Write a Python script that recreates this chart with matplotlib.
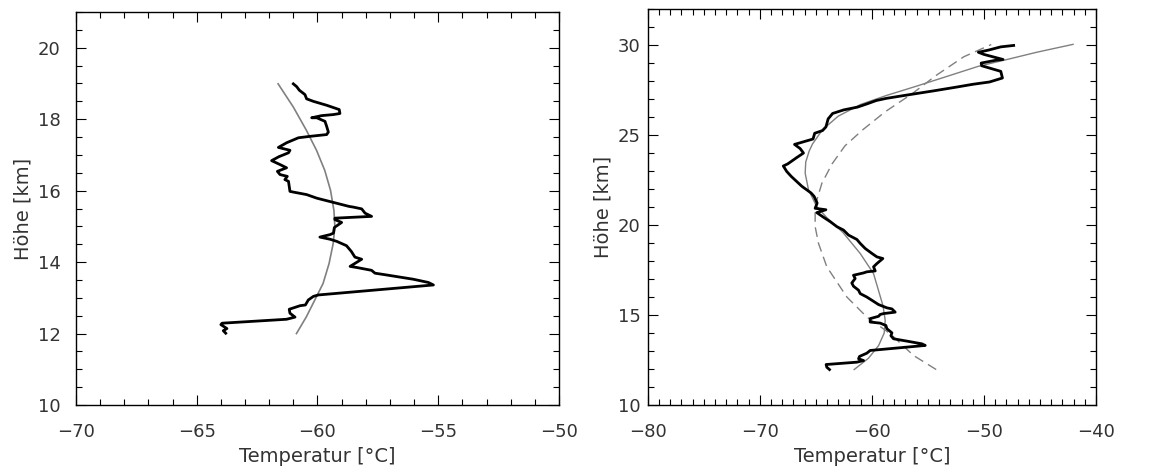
import matplotlib
matplotlib.use("Agg")
import matplotlib.pyplot as plt
from matplotlib.ticker import MultipleLocator

# left panel: measured profile and fitted curve
left_obs_T = [-63.8, -63.9, -63.75, -64.0, -63.95, -61.28, -60.93, -61.14, -61.17, -60.72,
              -60.5, -60.38, -60.17, -59.97, -55.2, -55.41, -56.03, -57.14, -57.62, -57.76,
              -58.38, -58.65, -58.17, -58.45, -58.6, -58.8, -59.2, -59.48, -59.9, -59.48,
              -59.34, -59.3, -59.0, -59.28, -59.28, -57.76, -58.03, -58.17, -58.52, -58.7,
              -60.03, -60.45, -61.0, -61.14, -61.17, -61.2, -61.35, -61.25, -61.55, -61.66,
              -61.28, -61.55, -61.9, -61.6, -61.2, -61.14, -61.62, -61.28, -60.79, -60.31,
              -59.62, -59.55, -59.62, -59.69, -60.03, -60.24, -59.83, -59.34, -59.07, -59.1,
              -59.62, -60.17, -60.45, -60.52, -60.75, -60.86, -61.0]
left_obs_h = [12.01, 12.08, 12.14, 12.25, 12.29, 12.4, 12.46, 12.57, 12.68, 12.78,
              12.8, 12.94, 13.04, 13.08, 13.36, 13.43, 13.52, 13.64, 13.69, 13.77,
              13.85, 13.88, 14.08, 14.14, 14.3, 14.46, 14.58, 14.64, 14.7, 14.77,
              14.81, 14.97, 15.11, 15.19, 15.23, 15.28, 15.37, 15.49, 15.54, 15.56,
              15.79, 15.89, 15.96, 15.98, 16.12, 16.26, 16.31, 16.4, 16.45, 16.54,
              16.64, 16.73, 16.84, 16.95, 17.06, 17.13, 17.21, 17.34, 17.48, 17.52,
              17.57, 17.64, 17.8, 17.94, 18.04, 18.04, 18.1, 18.13, 18.16, 18.27,
              18.39, 18.5, 18.57, 18.69, 18.81, 18.91, 18.99]

left_fit_T = [-60.87, -60.46, -60.11, -59.77, -59.52, -59.35, -59.28, -59.32, -59.46,
              -59.7, -60.04, -60.46, -61.0, -61.63]
left_fit_h = [12.0, 12.47, 12.94, 13.4, 13.96, 14.52, 14.99, 15.45, 16.01,
              16.57, 17.13, 17.69, 18.34, 18.99]

# right panel: measured profile, solid fit and dashed fit
right_obs_T = [-63.78, -64.02, -64.08, -61.34, -60.74, -61.19, -61.1, -60.45, -60.15, -55.24,
               -55.54, -56.88, -58.07, -58.3, -58.21, -58.66, -58.75, -59.26, -60.15, -60.15,
               -59.4, -59.26, -58.96, -57.92, -58.21, -58.66, -59.4, -60.45, -61.04, -61.19,
               -61.64, -61.79, -61.49, -61.64, -60.74, -60.45, -59.7, -59.85, -59.55, -59.02,
               -59.55, -59.99, -60.6, -61.04, -61.34, -62.08, -62.53, -63.12, -63.72, -64.38,
               -64.91, -64.1, -65.06, -64.88, -65.15, -65.42, -66.24, -67.19, -67.6, -67.9,
               -67.5, -66.7, -66.1, -66.4, -66.9, -65.8, -65.25, -65.1, -64.4, -64.1,
               -63.9, -63.5, -62.5, -61.3, -60.4, -59.6, -58.7, -56.6, -54.45, -52.5,
               -51.0, -49.5, -48.35, -48.5, -50.2, -50.25, -49.0, -48.3, -50.0, -50.5,
               -49.6, -48.5, -47.35]
right_obs_h = [11.97, 12.1, 12.25, 12.38, 12.47, 12.57, 12.7, 12.88, 13.03, 13.31,
               13.4, 13.55, 13.68, 13.85, 14.01, 14.24, 14.42, 14.55, 14.61, 14.8,
               14.93, 15.03, 15.08, 15.16, 15.34, 15.4, 15.58, 16.0, 16.19, 16.38,
               16.6, 16.78, 17.03, 17.21, 17.34, 17.4, 17.45, 17.68, 17.86, 18.14,
               18.23, 18.42, 18.7, 18.98, 19.2, 19.44, 19.72, 19.91, 20.19, 20.46,
               20.69, 20.85, 20.93, 21.22, 21.59, 21.78, 22.15, 22.7, 22.98, 23.28,
               23.4, 23.75, 24.0, 24.25, 24.48, 24.68, 24.78, 25.1, 25.25, 25.45,
               25.9, 26.2, 26.4, 26.55, 26.74, 26.92, 27.04, 27.25, 27.46, 27.66,
               27.82, 27.95, 28.17, 28.54, 28.85, 29.0, 29.15, 29.2, 29.48, 29.6,
               29.72, 29.9, 29.98]

right_fit_T = [-61.58, -60.3, -59.4, -58.9, -58.81, -59.0, -59.85, -61.04, -62.6, -64.0,
               -64.91, -65.65, -65.95, -65.9, -65.6, -65.3, -64.4, -63.0, -61.0, -58.7,
               -56.0, -53.1, -50.5, -47.8, -45.3, -42.05]
right_fit_h = [11.97, 12.6, 13.3, 14.0, 14.7, 15.5, 17.3, 18.42, 19.6, 20.4,
               21.02, 21.95, 22.88, 23.5, 24.1, 24.5, 25.3, 26.05, 26.7, 27.2,
               27.72, 28.3, 28.82, 29.22, 29.6, 30.04]

right_dash_T = [-54.26, -56.28, -58.36, -60.45, -62.23, -64.02, -64.76, -65.06, -65.06, -64.91,
                -64.46, -63.55, -62.4, -60.8, -58.8, -56.4, -54.3, -51.8, -49.35]
right_dash_h = [11.97, 12.75, 13.96, 14.89, 16.0, 17.68, 18.98, 19.91, 20.65, 21.39,
                22.32, 23.4, 24.4, 25.3, 26.3, 27.3, 28.3, 29.35, 30.03]

plt.rcParams["font.family"] = ["DejaVu Sans"]
plt.rcParams["font.size"] = 13

fig = plt.figure(figsize=(11.67, 4.68), dpi=100)
ax1 = fig.add_axes([0.0651, 0.1346, 0.4139, 0.8397])
ax2 = fig.add_axes([0.555, 0.1346, 0.3842, 0.846])

gray = "#808080"
txt = "#333333"

ax1.plot(left_fit_T, left_fit_h, color=gray, lw=1.2)
ax1.plot(left_obs_T, left_obs_h, color="black", lw=2.0)
ax1.set_xlim(-70, -50)
ax1.set_ylim(10, 21)
ax1.xaxis.set_major_locator(MultipleLocator(5))
ax1.xaxis.set_minor_locator(MultipleLocator(1))
ax1.yaxis.set_major_locator(MultipleLocator(2))
ax1.yaxis.set_minor_locator(MultipleLocator(0.5))

ax2.plot(right_dash_T, right_dash_h, color=gray, lw=1.0, dashes=(7, 4))
ax2.plot(right_fit_T, right_fit_h, color=gray, lw=1.0)
ax2.plot(right_obs_T, right_obs_h, color="black", lw=2.0)
ax2.set_xlim(-80, -40)
ax2.set_ylim(10, 32)
ax2.xaxis.set_major_locator(MultipleLocator(10))
ax2.xaxis.set_minor_locator(MultipleLocator(1))
ax2.yaxis.set_major_locator(MultipleLocator(5))
ax2.yaxis.set_minor_locator(MultipleLocator(1))

for ax, ypad in ((ax1, 11), (ax2, 5)):
    ax.tick_params(which="both", direction="in", top=True, right=True, colors="black",
                   labelcolor=txt)
    ax.tick_params(which="major", length=7, width=0.8, labelsize=13)
    ax.tick_params(which="minor", length=4, width=0.8)
    ax.tick_params(axis="x", which="major", pad=13)
    ax.tick_params(axis="y", which="major", pad=ypad)
    for s in ax.spines.values():
        s.set_linewidth(1.0)
    ax.set_xlabel("Temperatur [°C]", fontsize=14, color=txt, labelpad=4)
    ax.set_ylabel("Höhe [km]", fontsize=14, color=txt, labelpad=4)

fig.savefig("out.png", dpi=100)
